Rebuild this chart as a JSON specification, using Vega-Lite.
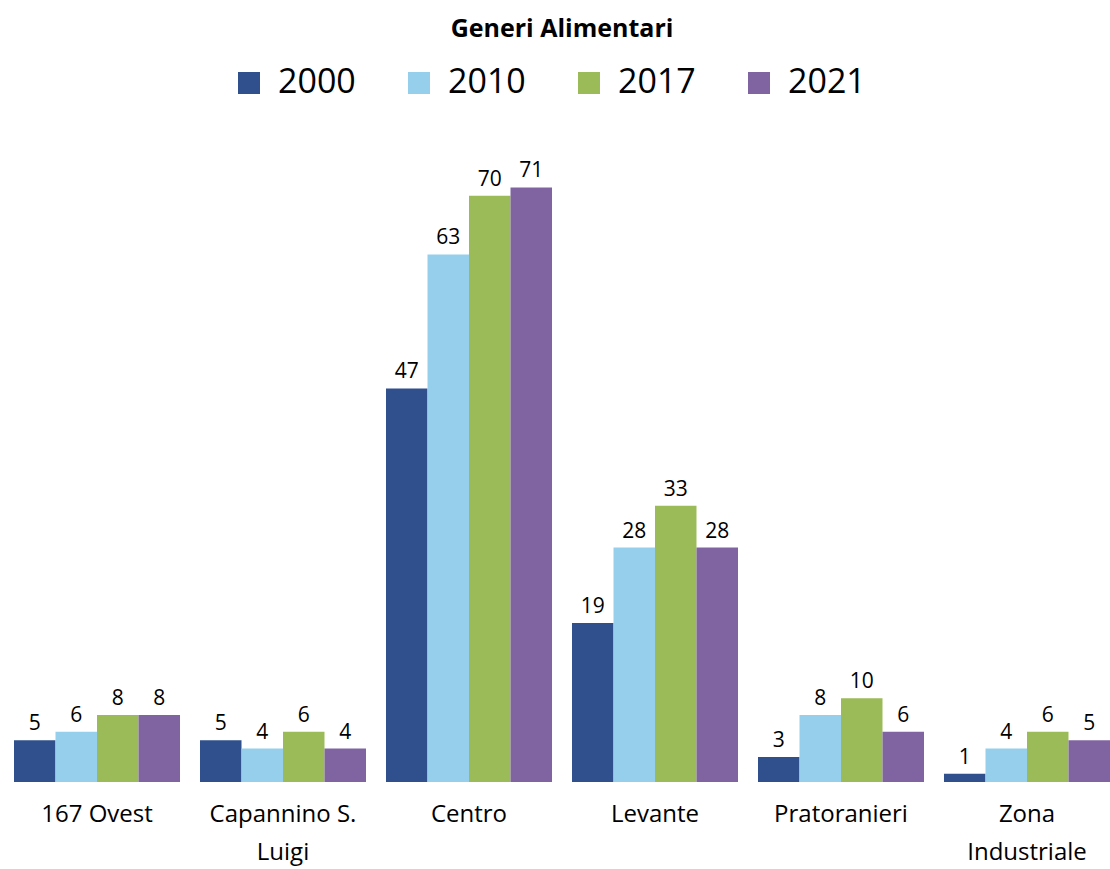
{
  "$schema": "https://vega.github.io/schema/vega-lite/v6.json",
  "width": 1096,
  "height": 670,
  "autosize": {"type": "none"},
  "padding": {"left": 14, "top": 112, "right": 0, "bottom": 87},
  "background": "white",
  "title": {
    "text": "Generi Alimentari",
    "font": "Open Sans",
    "fontSize": 25,
    "fontWeight": "bold",
    "color": "#000000",
    "anchor": "middle",
    "offset": 24
  },
  "data": {
    "values": [
      {"zona": "167 Ovest", "anno": "2000", "valore": 5},
      {"zona": "167 Ovest", "anno": "2010", "valore": 6},
      {"zona": "167 Ovest", "anno": "2017", "valore": 8},
      {"zona": "167 Ovest", "anno": "2021", "valore": 8},
      {"zona": "Capannino S. Luigi", "anno": "2000", "valore": 5},
      {"zona": "Capannino S. Luigi", "anno": "2010", "valore": 4},
      {"zona": "Capannino S. Luigi", "anno": "2017", "valore": 6},
      {"zona": "Capannino S. Luigi", "anno": "2021", "valore": 4},
      {"zona": "Centro", "anno": "2000", "valore": 47},
      {"zona": "Centro", "anno": "2010", "valore": 63},
      {"zona": "Centro", "anno": "2017", "valore": 70},
      {"zona": "Centro", "anno": "2021", "valore": 71},
      {"zona": "Levante", "anno": "2000", "valore": 19},
      {"zona": "Levante", "anno": "2010", "valore": 28},
      {"zona": "Levante", "anno": "2017", "valore": 33},
      {"zona": "Levante", "anno": "2021", "valore": 28},
      {"zona": "Pratoranieri", "anno": "2000", "valore": 3},
      {"zona": "Pratoranieri", "anno": "2010", "valore": 8},
      {"zona": "Pratoranieri", "anno": "2017", "valore": 10},
      {"zona": "Pratoranieri", "anno": "2021", "valore": 6},
      {"zona": "Zona Industriale", "anno": "2000", "valore": 1},
      {"zona": "Zona Industriale", "anno": "2010", "valore": 4},
      {"zona": "Zona Industriale", "anno": "2017", "valore": 6},
      {"zona": "Zona Industriale", "anno": "2021", "valore": 5}
    ]
  },
  "encoding": {
    "x": {
      "field": "zona",
      "type": "nominal",
      "sort": null,
      "scale": {"paddingInner": 0.1075, "paddingOuter": 0},
      "axis": {
        "title": null,
        "domain": false,
        "ticks": false,
        "labelAngle": 0,
        "labelFont": "Open Sans",
        "labelFontSize": 24,
        "labelColor": "#000000",
        "labelPadding": 20,
        "labelLineHeight": 38,
        "labelExpr": "datum.label == 'Capannino S. Luigi' ? ['Capannino S.', 'Luigi'] : datum.label == 'Zona Industriale' ? ['Zona', 'Industriale'] : datum.label"
      }
    },
    "xOffset": {
      "field": "anno",
      "type": "nominal",
      "scale": {"paddingInner": 0, "paddingOuter": 0}
    },
    "y": {
      "field": "valore",
      "type": "quantitative",
      "scale": {"domain": [0, 80]},
      "axis": null
    }
  },
  "layer": [
    {
      "mark": {"type": "bar"},
      "encoding": {
        "color": {
          "field": "anno",
          "type": "nominal",
          "scale": {
            "domain": ["2000", "2010", "2017", "2021"],
            "range": ["#2F4F8D", "#96CFEB", "#9BBB59", "#8064A2"]
          },
          "legend": {
            "title": null,
            "orient": "none",
            "direction": "horizontal",
            "legendX": 218,
            "legendY": -46,
            "symbolType": "square",
            "symbolSize": 484,
            "symbolStrokeWidth": 0,
            "labelFont": "Open Sans",
            "labelFontSize": 34,
            "labelColor": "#000000",
            "labelOffset": 12,
            "columnPadding": 46,
            "padding": 0
          }
        }
      }
    },
    {
      "mark": {
        "type": "text",
        "baseline": "bottom",
        "dy": -6,
        "font": "Open Sans",
        "fontSize": 21,
        "color": "#000000"
      },
      "encoding": {
        "text": {"field": "valore", "type": "quantitative"}
      }
    }
  ],
  "config": {
    "view": {"stroke": null}
  }
}
